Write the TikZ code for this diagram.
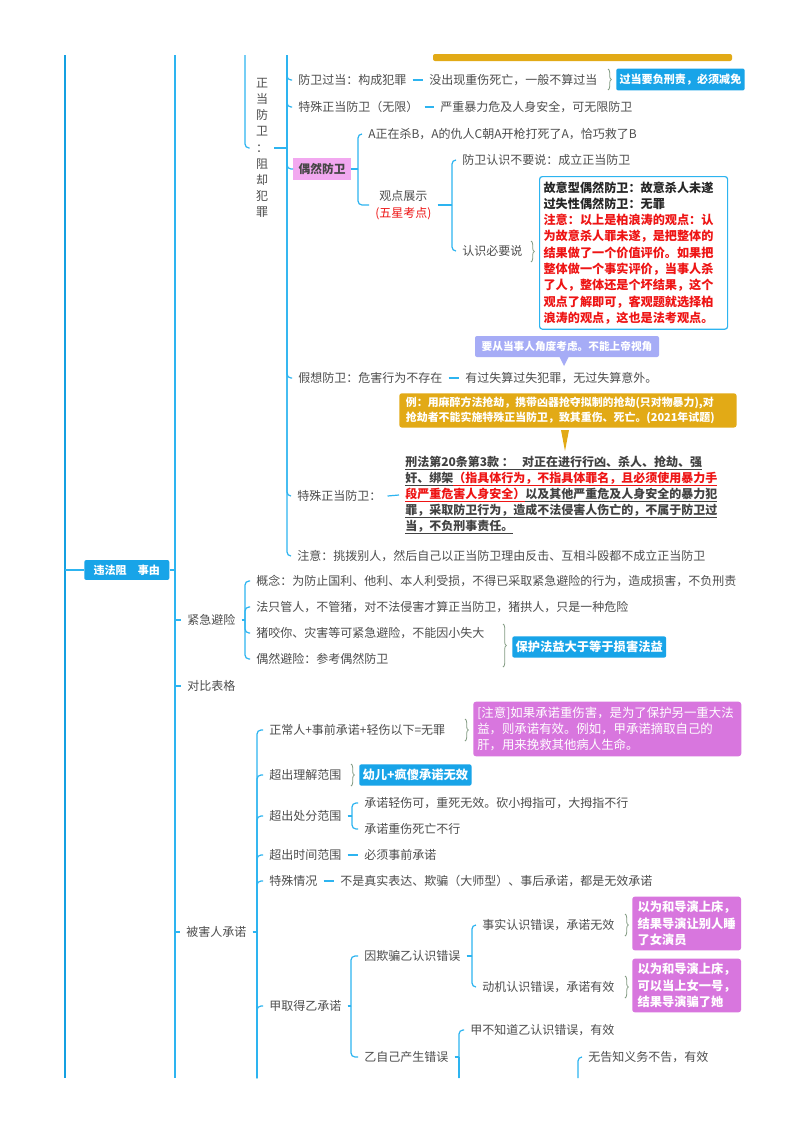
\documentclass[tikz,border=0pt]{standalone}
\usepackage{fontspec}
\newfontfamily\cjk{Noto Sans CJK SC}
\usetikzlibrary{decorations.pathreplacing}
\definecolor{lblue}{RGB}{45,180,240}
\definecolor{rblue}{RGB}{20,160,225}
\definecolor{bfill}{RGB}{24,164,232}
\definecolor{tgray}{RGB}{77,77,77}
\definecolor{pklt}{RGB}{242,168,240}
\definecolor{pkdk}{RGB}{216,118,222}
\definecolor{lav}{RGB}{166,172,246}
\definecolor{gold}{RGB}{226,170,22}
\definecolor{brgr}{RGB}{130,155,130}
\definecolor{rd}{RGB}{238,20,20}
\newcommand\ulx[1]{\setbox0=\hbox{#1}\leavevmode\rlap{\rule[-2.6pt]{\wd0}{0.8pt}}\box0}
\begin{document}
\begin{tikzpicture}[x=0.75pt,y=-0.75pt,
  txt/.style={anchor=west,inner xsep=4.5pt,inner ysep=1pt,text=tgray,font=\cjk\fontsize{9}{11}\selectfont},
  ln/.style={draw=lblue,line width=0.9pt,rounded corners=3pt},
  rootln/.style={draw=rblue,line width=1.9pt},
  brc/.style={draw=brgr,line width=0.6pt,decorate,decoration={brace,amplitude=2.5pt}},
  bbox/.style={anchor=west,fill=bfill,text=white,rounded corners=1.5pt,inner xsep=2.5pt,inner ysep=4pt,font=\cjk\bfseries\fontsize{8.3}{10}\selectfont},
  pbox/.style={anchor=west,fill=pkdk,text=white,rounded corners=2pt,inner xsep=4pt,inner ysep=3.2pt,align=left},
]
\fill[white] (0,0) rectangle (800,1132);
\useasboundingbox (0,0) rectangle (800,1132);

% top bar (bottom of a box above)
\fill[gold,rounded corners=1.5pt] (433,54) rectangle (732,61);

% root spine
\coordinate (t65) at (65,55);
\coordinate (b65) at (65,1078);
\draw[rootln] (t65) -- (b65);
\node[anchor=west,fill=bfill,text=white,rounded corners=1.5pt,inner xsep=7pt,inner ysep=3.5pt,font=\cjk\bfseries\fontsize{8.3}{10}\selectfont] (root) at (84,570) {违法阻　事由};
\draw[ln] (root.west -| t65) -- (root.west);
\coordinate (t175) at (175,55);
\coordinate (b175) at (175,1078);
\draw[ln] (t175) -- (b175);
\draw[ln] (root.east) -- (root.east -| t175);

% 正当防卫
\coordinate (t245) at (245,55);
\node[text=tgray,font=\cjk\fontsize{9}{12.1}\selectfont,align=center,inner xsep=4.5pt,inner ysep=2pt] (zd) at (262,148) {正\\当\\防\\卫\\：\\阻\\却\\犯\\罪};
\draw[ln] (t245) |- (zd.west);
\coordinate (t287) at (287,55);
\draw[ln] (zd.east) -- (zd.east -| t287);

\node[txt] (fwgd) at (292,80) {防卫过当：构成犯罪};
\node[txt] (fwgd2) at (423,80) {没出现重伤死亡，一般不算过当};
\draw[ln] (fwgd.east) -- (fwgd2.west);
\draw[brc] (608,69) -- (608,90);
\node[bbox] (gdbx) at (616,79.5) {过当要负刑责，必须减免};

\node[txt] (tszd) at (292,107) {特殊正当防卫（无限）};
\node[txt] (tszd2) at (434,107) {严重暴力危及人身安全，可无限防卫};
\draw[ln] (tszd.east) -- (tszd2.west);

\node[anchor=west,fill=pklt,text=tgray!90!black,inner xsep=4pt,inner ysep=4pt,font=\cjk\bfseries\fontsize{8.8}{11}\selectfont] (orfw) at (293,169) {偶然防卫};
\coordinate (s358) at (358,169);
\draw[ln] (orfw.east) -- (s358);
\node[txt] (case) at (362,134) {A正在杀B，A的仇人C朝A开枪打死了A，恰巧救了B};
\draw[ln] (s358) |- (case.west);
\node[txt,align=center,font=\cjk\fontsize{9}{12.75}\selectfont] (gdzs) at (369,205) {观点展示\\\textcolor{rd}{(五星考点)}};
\draw[ln] (s358) |- (gdzs.west);
\coordinate (s452) at (452,205);
\draw[ln] (gdzs.east) -- (s452);
\node[txt] (bys) at (456,160) {防卫认识不要说：成立正当防卫};
\node[txt] (bys2) at (456,251) {认识必要说};
\draw[ln] (s452) |- (bys.west);
\draw[ln] (s452) |- (bys2.west);
\draw[brc] (531,241) -- (531,262);
\node[anchor=north west,draw=lblue,line width=0.9pt,fill=white,rounded corners=2pt,inner xsep=3pt,inner ysep=3.75pt,text width=135pt,align=left,text=black!85,font=\cjk\bfseries\fontsize{9.1}{12.2}\selectfont] (big) at (539,176) {故意型偶然防卫：故意杀人未遂\\过失性偶然防卫：无罪\\\textcolor{rd}{注意：以上是柏浪涛的观点：认}\\\textcolor{rd}{为故意杀人罪未遂，是把整体的}\\\textcolor{rd}{结果做了一个价值评价。如果把}\\\textcolor{rd}{整体做一个事实评价，当事人杀}\\\textcolor{rd}{了人，整体还是个坏结果，这个}\\\textcolor{rd}{观点了解即可，客观题就选择柏}\\\textcolor{rd}{浪涛的观点，这也是法考观点。}};

% 假想防卫 + callout
\node[fill=lav,text=white,rounded corners=1.5pt,inner xsep=5pt,inner ysep=4pt,font=\cjk\bfseries\fontsize{8}{10}\selectfont] (lavn) at (567,346.5) {要从当事人角度考虑。不能上帝视角};
\fill[lav] (559,356) -- (569,356) -- (564,366) -- cycle;
\node[txt] (jx) at (292,378) {假想防卫：危害行为不存在};
\node[txt] (jx2) at (459,378) {有过失算过失犯罪，无过失算意外。};
\draw[ln] (jx.east) -- (jx2.west);

\node[anchor=north west,fill=gold,text=white,rounded corners=2pt,inner xsep=5pt,inner ysep=3pt,text width=243pt,align=left,font=\cjk\bfseries\fontsize{8.2}{10.9}\selectfont] (orng) at (399,393) {例：用麻醉方法抢劫，携带凶器抢夺拟制的抢劫(只对物暴力),对\\抢劫者不能实施特殊正当防卫，致其重伤、死亡。(2021年试题)};
\fill[gold] (561,430) -- (569,430) -- (565,451) -- cycle;

% 特殊正当防卫
\node[txt] (tsz) at (291,496) {特殊正当防卫：};
\node[txt,align=left,text=tgray!85!black,font=\cjk\bfseries\fontsize{9}{12}\selectfont] (law) at (399,495) {\ulx{刑法第20条第3款 ：\ \ \ 对正在进行行凶、杀人、抢劫、强}\\\ulx{奸、绑架}\textcolor{rd}{\ulx{（指具体行为，不指具体罪名，且必须使用暴力手}}\\\textcolor{rd}{\ulx{段严重危害人身安全）}}\ulx{以及其他严重危及人身安全的暴力犯}\\\ulx{罪，采取防卫行为，造成不法侵害人伤亡的，不属于防卫过}\\\ulx{当，不负刑事责任。}};
\draw[ln] (tsz.east) -- (law.west);

\node[txt] (zy) at (291,556) {注意：挑拨别人，然后自己以正当防卫理由反击、互相斗殴都不成立正当防卫};

\foreach \c in {fwgd,tszd,orfw,jx,tsz,zy} {\draw[ln] (t287) |- (\c.west);}

% 紧急避险
\node[txt] (jjbx) at (181,620) {紧急避险};
\draw[ln] (jjbx.west -| t175) -- (jjbx.west);
\coordinate (s244) at (245,620);
\draw[ln] (jjbx.east) -- (s244);
\node[txt] (jc1) at (250,581) {概念：为防止国利、他利、本人利受损，不得已采取紧急避险的行为，造成损害，不负刑责};
\node[txt] (jc2) at (250,607) {法只管人，不管猪，对不法侵害才算正当防卫，猪拱人，只是一种危险};
\node[txt] (jc3) at (250,633) {猪咬你、灾害等可紧急避险，不能因小失大};
\node[txt] (jc4) at (250,659) {偶然避险：参考偶然防卫};
\foreach \c in {jc1,jc2,jc3,jc4} {\draw[ln] (s244) |- (\c.west);}
\draw[brc] (503,624) -- (503,667);
\node[bbox,font=\cjk\bfseries\fontsize{9.2}{11}\selectfont,inner xsep=2.5pt,inner ysep=3.5pt] (bhfy) at (512,647) {保护法益大于等于损害法益};

% 对比表格
\node[txt] (dbbg) at (181,686) {对比表格};
\draw[ln] (dbbg.west -| t175) -- (dbbg.west);

% 被害人承诺
\node[txt] (bhr) at (180,932) {被害人承诺};
\draw[ln] (bhr.west -| t175) -- (bhr.west);
\coordinate (s257) at (257,932);
\coordinate (b257) at (257,1078);
\draw[ln] (bhr.east) -- (s257);
\node[txt] (d1) at (263,730) {正常人+事前承诺+轻伤以下=无罪};
\node[txt] (d2) at (263,775) {超出理解范围};
\node[txt] (d3) at (263,816) {超出处分范围};
\node[txt] (d4) at (263,855) {超出时间范围};
\node[txt] (d5) at (263,881) {特殊情况};
\node[txt] (d6) at (263,1006) {甲取得乙承诺};
\foreach \c in {d1,d2,d3,d4,d5,d6} {\draw[ln] (b257) |- (\c.west);}

\draw[brc] (465,719) -- (465,741);
\node[pbox,text width=195pt,inner xsep=3pt,inner ysep=4pt,font=\cjk\fontsize{9.3}{12}\selectfont] (zyb) at (473,729) {[注意]如果承诺重伤害，是为了保护另一重大法\\益，则承诺有效。例如，甲承诺摘取自己的\\肝，用来挽救其他病人生命。};

\draw[brc] (351,764) -- (351,786);
\node[bbox,font=\cjk\bfseries\fontsize{9.2}{11}\selectfont,inner ysep=3.5pt] (yr) at (359,775) {幼儿+疯傻承诺无效};

\coordinate (s352) at (352,816);
\draw[ln] (d3.east) -- (s352);
\node[txt] (cf1) at (358,803) {承诺轻伤可，重死无效。砍小拇指可，大拇指不行};
\node[txt] (cf2) at (358,829) {承诺重伤死亡不行};
\draw[ln] (s352) |- (cf1.west);
\draw[ln] (s352) |- (cf2.west);

\node[txt] (sj) at (358,855) {必须事前承诺};
\draw[ln] (d4.east) -- (sj.west);
\node[txt] (ts) at (334,881) {不是真实表达、欺骗（大师型）、事后承诺，都是无效承诺};
\draw[ln] (d5.east) -- (ts.west);

\coordinate (s351) at (351,1006);
\draw[ln] (d6.east) -- (s351);
\node[txt] (e1) at (358,956) {因欺骗乙认识错误};
\node[txt] (e2) at (358,1057) {乙自己产生错误};
\draw[ln] (s351) |- (e1.west);
\draw[ln] (s351) |- (e2.west);

\coordinate (s472) at (472,956);
\draw[ln] (e1.east) -- (s472);
\node[txt] (f1) at (476,925) {事实认识错误，承诺无效};
\node[txt] (f2) at (476,987) {动机认识错误，承诺有效};
\draw[ln] (s472) |- (f1.west);
\draw[ln] (s472) |- (f2.west);
\draw[brc] (625,914) -- (625,936);
\draw[brc] (625,976) -- (625,998);
\node[pbox,font=\cjk\bfseries\fontsize{9.2}{12.5}\selectfont] (pk1) at (632,923.5) {以为和导演上床，\\结果导演让别人睡\\了女演员};
\node[pbox,font=\cjk\bfseries\fontsize{9.2}{12.5}\selectfont] (pk2) at (632,985.5) {以为和导演上床，\\可以当上女一号，\\结果导演骗了她};

\coordinate (s459) at (459,1057);
\coordinate (b459) at (459,1078);
\draw[ln] (e2.east) -- (s459);
\node[txt] (g1) at (464,1030) {甲不知道乙认识错误，有效};
\draw[ln] (b459) |- (g1.west);
\draw[ln] (s459) -- (b459);
\coordinate (b578) at (578,1078);
\node[txt] (g2) at (582,1057) {无告知义务不告，有效};
\draw[ln] (b578) |- (g2.west);
\end{tikzpicture}
\end{document}
